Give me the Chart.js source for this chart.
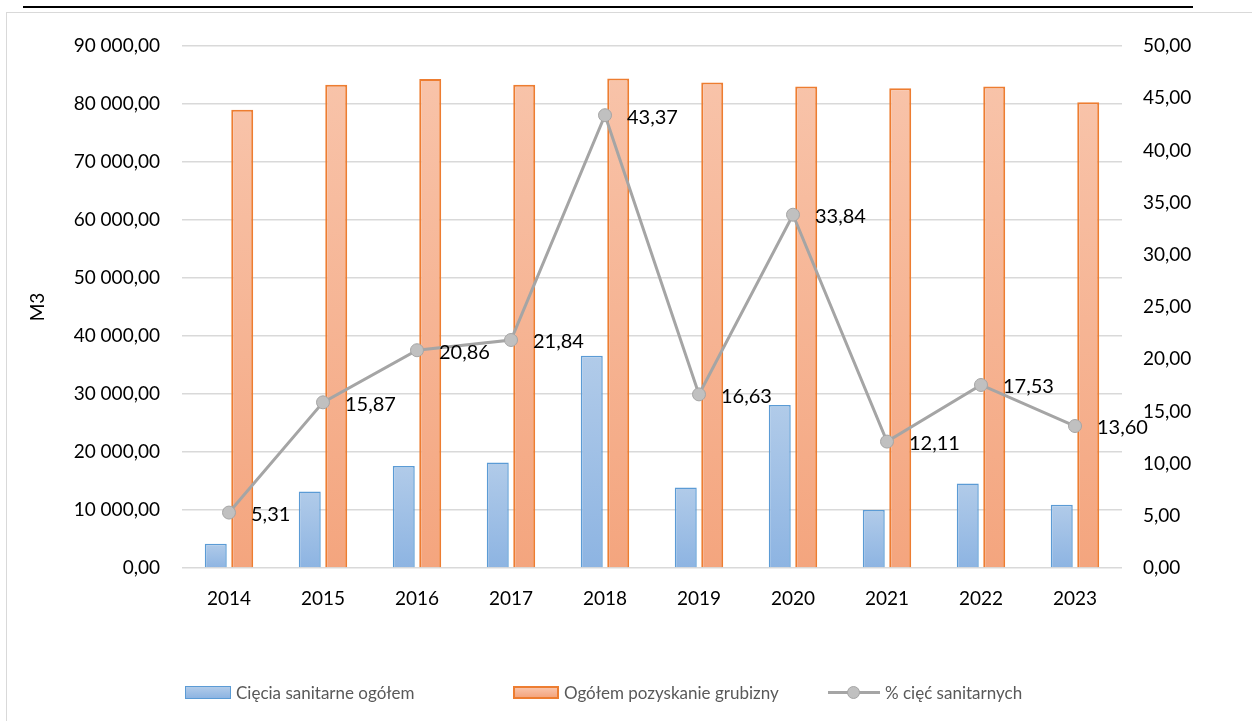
<!DOCTYPE html>
<html><head><meta charset="utf-8">
<script src="https://cdn.jsdelivr.net/npm/chart.js@4/dist/chart.umd.min.js"></script>
<style>
html,body{margin:0;padding:0;background:#fff;width:1252px;height:721px;overflow:hidden;font-family:Lato,sans-serif}
#frame{position:absolute;left:6px;top:12px;width:1260px;height:720px;border:1.5px solid #d9d9d9;box-sizing:border-box}
#topline{position:absolute;left:23px;top:6px;width:1170px;height:2px;background:#000}
#c{position:absolute;left:0;top:0}
.li{position:absolute;top:681px;height:22px;display:flex;align-items:center;font-size:17px;color:#595959;white-space:nowrap}
.sw{width:46px;height:13px;margin-right:5px;box-sizing:border-box}
.sw.b{border:1.5px solid #5b9bd5;background:linear-gradient(#b1cbe9,#8db4e2)}
.sw.o{border:2px solid #ed7d31;background:linear-gradient(#f8c3a9,#f4a57e)}
.ln{position:relative;width:52px;height:14px;margin-right:5px}
.ln:before{content:"";position:absolute;left:0;right:0;top:6px;height:3px;background:#a5a5a5}
.ln:after{content:"";position:absolute;left:19px;top:1px;width:11px;height:11px;border-radius:50%;background:#c0c0c0;border:1px solid #a5a5a5}
</style></head>
<body>
<div id="frame"></div>
<div id="topline"></div>
<canvas id="c" width="1252" height="721"></canvas>
<div class="li" style="left:185px"><div class="sw b"></div>Cięcia sanitarne ogółem</div>
<div class="li" style="left:513px"><div class="sw o"></div>Ogółem pozyskanie grubizny</div>
<div class="li" style="left:828px"><div class="ln"></div>% cięć sanitarnych</div>
<script>
const years = ['2014','2015','2016','2017','2018','2019','2020','2021','2022','2023'];
const sanitary = [4200, 13200, 17600, 18200, 36600, 13900, 28100, 10000, 14550, 10900];
const total = [79000, 83300, 84300, 83300, 84400, 83700, 83000, 82700, 83000, 80300];
const pct = [5.31, 15.87, 20.86, 21.84, 43.37, 16.63, 33.84, 12.11, 17.53, 13.60];
const labelSanitary = 'Cięcia sanitarne ogółem';
const labelTotal = 'Ogółem pozyskanie grubizny';
const labelPct = '% cięć sanitarnych';
const leftTitle = 'M3';

function fmt(v){
  const s = Number(v).toFixed(2).split('.');
  return s[0].replace(/\B(?=(\d{3})+(?!\d))/g,' ') + ',' + s[1];
}
function barGrad(top, bottom, fallback){
  return (ctx)=>{
    const ch = ctx.chart;
    const ys = ch.scales && ch.scales.y;
    if(!ys || ctx.raw === undefined || ctx.type !== 'data') return fallback;
    const y0 = ys.getPixelForValue(ctx.raw), y1 = ys.getPixelForValue(0);
    if(!isFinite(y0) || !isFinite(y1) || y1 - y0 < 1) return fallback;
    const g = ch.ctx.createLinearGradient(0, y0, 0, y1);
    g.addColorStop(0, top); g.addColorStop(1, bottom);
    return g;
  };
}
const labelPlugin = {
  id:'pctLabels',
  afterDatasetsDraw(chart){
    const meta = chart.getDatasetMeta(2);
    const c = chart.ctx;
    c.save();
    c.font = '20px Lato';
    c.fillStyle = '#000';
    c.textAlign = 'left';
    c.textBaseline = 'middle';
    meta.data.forEach((pt,i)=>{ c.fillText(fmt(pct[i]), pt.x + 22, pt.y + 2); });
    c.restore();
  }
};
const tickFont = {family:'Lato', size:19};
new Chart(document.getElementById('c'), {
  data:{
    labels: years,
    datasets:[
      {type:'bar', label:labelSanitary, data:sanitary, yAxisID:'y', order:2,
       backgroundColor: barGrad('#b1cbe9','#8db4e2','#a0c0e6'), borderColor:'#5b9bd5', borderWidth:1.5,
       categoryPercentage:0.563, barPercentage:0.83},
      {type:'bar', label:labelTotal, data:total, yAxisID:'y', order:2,
       backgroundColor: barGrad('#f8c3a9','#f4a57e','#f6b493'), borderColor:'#ed7d31', borderWidth:2,
       categoryPercentage:0.563, barPercentage:0.83},
      {type:'line', label:labelPct, data:pct, yAxisID:'y1', order:0,
       borderColor:'#a5a5a5', borderWidth:3, tension:0,
       pointRadius:6.5, pointBackgroundColor:'#c0c0c0', pointBorderColor:'#a5a5a5', pointBorderWidth:1}
    ]
  },
  options:{
    responsive:false, devicePixelRatio:1, animation:false,
    layout:{padding:{top:46,left:0,right:0,bottom:0}},
    plugins:{legend:{display:false}, tooltip:{enabled:false}},
    scales:{
      x:{grid:{display:false}, border:{display:false},
         ticks:{font:tickFont, color:'#000', padding:11, maxRotation:0},
         afterFit(s){ s.height = 721 - 568; }},
      y:{position:'left', min:0, max:90000,
         grid:{color:'#d9d9d9', lineWidth:1.5, drawTicks:false}, border:{display:false},
         ticks:{stepSize:10000, font:tickFont, color:'#000', padding:22, callback:(v)=>fmt(v)},
         title:{display:true, text:leftTitle, font:tickFont, color:'#000', padding:{top:26,bottom:0}},
         afterFit(s){ s.width = 182; }},
      y1:{position:'right', min:0, max:50,
         grid:{display:false, drawTicks:false}, border:{display:false},
         ticks:{stepSize:5, font:tickFont, color:'#000', padding:21, callback:(v)=>fmt(v)},
         afterFit(s){ s.width = 130; }}
    }
  },
  plugins:[labelPlugin]
});
</script>
</body></html>
